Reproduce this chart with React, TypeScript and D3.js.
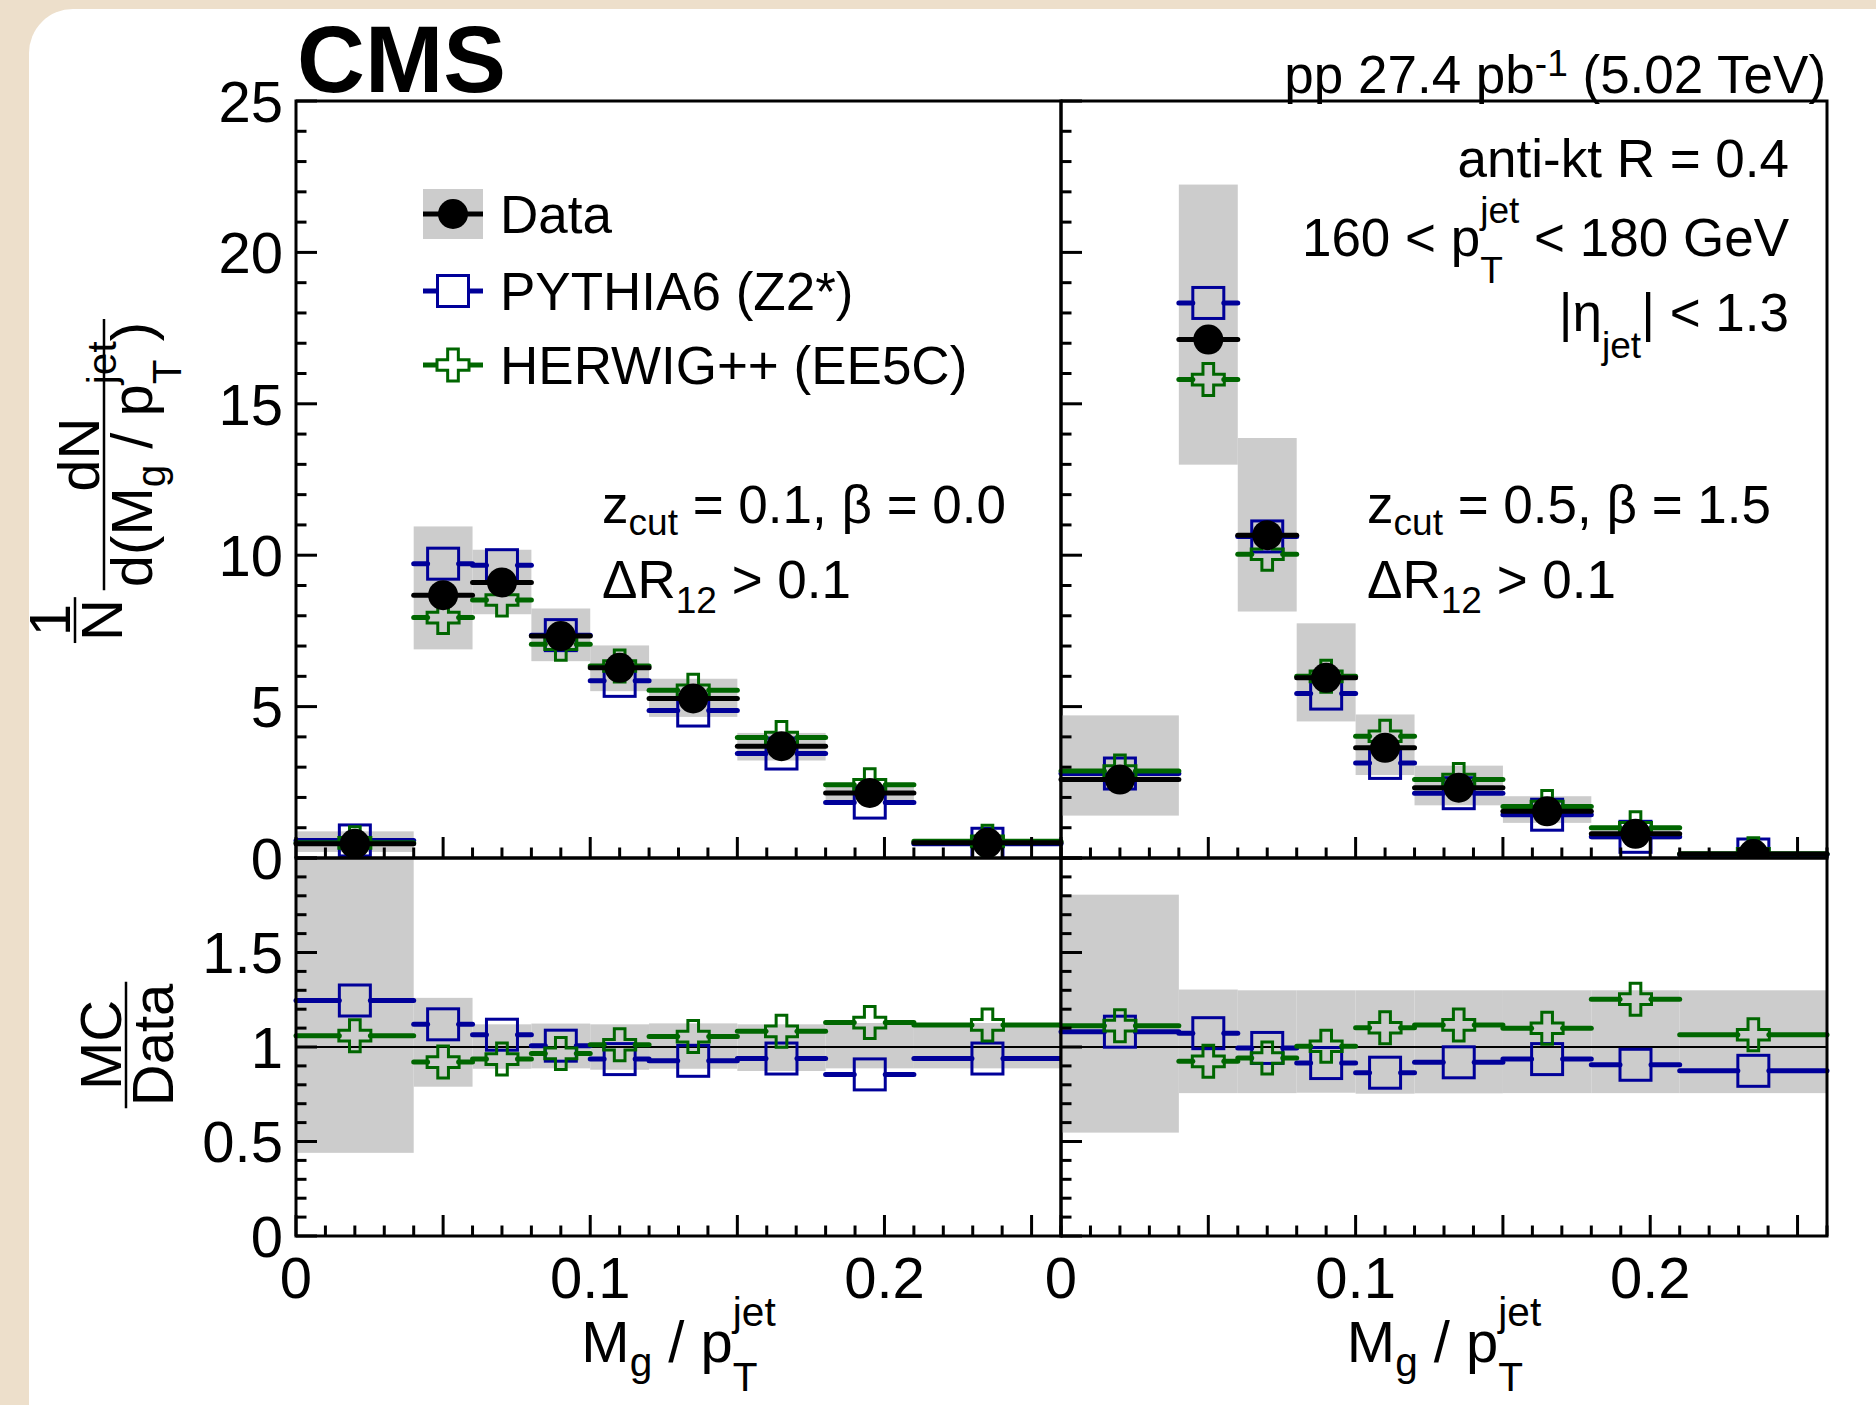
import React from 'react';
import * as d3 from 'd3';

// ---------------- DATA ----------------
const binEdges = [0, 0.04, 0.06, 0.08, 0.1, 0.12, 0.15, 0.18, 0.21, 0.26];

// Left panel: z_cut = 0.1, beta = 0.0
const leftData = [0.47, 8.68, 9.1, 7.33, 6.28, 5.27, 3.69, 2.15, 0.5];
const leftPythia = [0.58, 9.72, 9.67, 7.36, 5.85, 4.87, 3.45, 1.83, 0.47];
const leftHerwig = [0.5, 7.94, 8.52, 7.06, 6.34, 5.54, 3.98, 2.42, 0.55];
const leftBandLo = [0.2, 6.89, 8.05, 6.5, 5.51, 4.66, 3.22, 1.91, 0.44];
const leftBandHi = [0.88, 10.95, 10.18, 8.24, 7.02, 5.92, 4.13, 2.42, 0.56];
const leftRatioPythia = [1.246, 1.12, 1.065, 1.007, 0.936, 0.927, 0.939, 0.855, 0.939];
const leftRatioHerwig = [1.06, 0.92, 0.936, 0.966, 1.012, 1.055, 1.083, 1.129, 1.117];
const leftRatioBandLo = [0.44, 0.79, 0.885, 0.887, 0.88, 0.885, 0.873, 0.887, 0.887];
const leftRatioBandHi = [2.1, 1.26, 1.12, 1.124, 1.12, 1.125, 1.12, 1.127, 1.127];

// Right panel: z_cut = 0.5, beta = 1.5
const rightData = [2.59, 17.12, 10.66, 5.95, 3.64, 2.32, 1.54, 0.8, 0.13];
const rightPythia = [2.79, 18.33, 10.62, 5.43, 3.14, 2.14, 1.43, 0.7, 0.115];
const rightHerwig = [2.87, 15.8, 10.03, 6.0, 4.02, 2.59, 1.7, 1.0, 0.14];
const rightBandLo = [1.4, 12.99, 8.14, 4.51, 2.74, 1.74, 1.16, 0.6, 0.1];
const rightBandHi = [4.71, 22.24, 13.87, 7.75, 4.74, 3.05, 2.04, 1.04, 0.17];
const rightRatioPythia = [1.081, 1.073, 0.995, 0.915, 0.864, 0.919, 0.936, 0.906, 0.874];
const rightRatioHerwig = [1.113, 0.924, 0.942, 1.004, 1.102, 1.117, 1.099, 1.253, 1.065];
const rightRatioBandLo = [0.547, 0.756, 0.756, 0.758, 0.753, 0.755, 0.756, 0.756, 0.756];
const rightRatioBandHi = [1.806, 1.304, 1.3, 1.3, 1.3, 1.3, 1.3, 1.3, 1.3];

const xTickLabels = [0, 0.1, 0.2];
const yTopTickLabels = [0, 5, 10, 15, 20, 25];
const yRatioTickLabels = [0, 0.5, 1, 1.5];
const legendLabels = ['Data', 'PYTHIA6 (Z2*)', 'HERWIG++ (EE5C)'];

// ---------------- STYLE / LAYOUT ----------------
const W = 1876;
const H = 1405;
const FONT = '"Liberation Sans", Arial, Helvetica, sans-serif';
const FS = 53; // general text
const FT = 58; // tick labels / axis titles
const BLUE = '#000099';
const GREEN = '#006600';
const GRAY = '#cccccc';

const TOP_Y0 = 101;
const SPLIT_Y = 858;
const BOT_Y = 1236;
const PANEL_X = [296, 1061, 1827];

const yTop = d3.scaleLinear().domain([0, 25]).range([SPLIT_Y, TOP_Y0]);
const yRatio = d3.scaleLinear().domain([0, 2]).range([BOT_Y, SPLIT_Y]);

// ---------------- TEXT HELPERS ----------------
let _ctx: CanvasRenderingContext2D | null = null;
function measure(t: string, size: number, weight: string = 'normal'): number {
  if (!_ctx && typeof document !== 'undefined') {
    _ctx = document.createElement('canvas').getContext('2d');
  }
  if (!_ctx) return t.length * size * 0.55;
  _ctx.font = `${weight} ${size}px "Liberation Sans", Arial, sans-serif`;
  return _ctx.measureText(t).width;
}

type Piece = { t: string; s?: number; dy?: number; stack?: boolean };

function layoutRich(pieces: Piece[], size: number, weight = 'normal') {
  let x = 0;
  let prevStart = 0;
  let prevW = 0;
  const items: { t: string; x: number; dy: number; fs: number }[] = [];
  for (const p of pieces) {
    const fs = size * (p.s ?? 1);
    const w = measure(p.t, fs, weight);
    let start: number;
    if (p.stack) {
      start = prevStart;
      x = Math.max(prevStart + prevW, start + w);
    } else {
      start = x;
      x = start + w;
    }
    items.push({ t: p.t, x: start, dy: (p.dy ?? 0) * size, fs });
    prevStart = start;
    prevW = w;
  }
  return { items, width: x };
}

function RichText(props: {
  x: number;
  y: number;
  pieces: Piece[];
  size: number;
  anchor?: 'start' | 'middle' | 'end';
  weight?: string;
}) {
  const { x, y, pieces, size, anchor = 'start', weight = 'normal' } = props;
  const lay = layoutRich(pieces, size, weight);
  const off = anchor === 'end' ? -lay.width : anchor === 'middle' ? -lay.width / 2 : 0;
  return (
    <g>
      {lay.items.map((it, i) => (
        <text
          key={i}
          x={x + off + it.x}
          y={y + it.dy}
          fontSize={it.fs}
          fontFamily={FONT}
          fontWeight={weight}
          fill="#000"
          style={{ whiteSpace: 'pre' }}
        >
          {it.t}
        </text>
      ))}
    </g>
  );
}

const pTjet = (s = 0.7): Piece[] => [
  { t: 'p' },
  { t: 'jet', s, dy: -0.62 },
  { t: 'T', s, dy: 0.5, stack: true },
];

const xTitlePieces: Piece[] = [
  { t: 'M' },
  { t: 'g', s: 0.7, dy: 0.24 },
  { t: ' / ' },
  ...pTjet(),
];
const yDenPieces: Piece[] = [
  { t: 'd(M' },
  { t: 'g', s: 0.7, dy: 0.24 },
  { t: ' / ' },
  ...pTjet(),
  { t: ')' },
];

// ---------------- MARKERS ----------------
const MS = 15.5; // marker half-size

function crossPath(h: number) {
  const a = h / 3;
  return `M${-a},${-h}L${a},${-h}L${a},${-a}L${h},${-a}L${h},${a}L${a},${a}L${a},${h}L${-a},${h}L${-a},${a}L${-h},${a}L${-h},${-a}L${-a},${-a}Z`;
}

function Marker({ kind, x, y }: { kind: string; x: number; y: number }) {
  if (kind === 'data') return <circle cx={x} cy={y} r={15} fill="#000" />;
  if (kind === 'pythia')
    return (
      <rect x={x - MS} y={y - MS} width={2 * MS} height={2 * MS} fill="none" stroke={BLUE} strokeWidth={3} />
    );
  return (
    <path d={crossPath(16)} transform={`translate(${x},${y})`} fill="none" stroke={GREEN} strokeWidth={3} />
  );
}

function Series(props: {
  values: number[];
  kind: string;
  x: d3.ScaleLinear<number, number>;
  y: d3.ScaleLinear<number, number>;
}) {
  const { values, kind, x, y } = props;
  const color = kind === 'data' ? '#000' : kind === 'pythia' ? BLUE : GREEN;
  return (
    <g>
      {values.map((v, i) => {
        const lo = x(binEdges[i]);
        const hi = x(binEdges[i + 1]);
        const cx = x((binEdges[i] + binEdges[i + 1]) / 2);
        const cy = y(v);
        const gapHalf = kind === 'data' ? 0 : MS;
        return (
          <g key={i}>
            {kind === 'data' ? (
              <line x1={lo} x2={hi} y1={cy} y2={cy} stroke={color} strokeWidth={5} strokeLinecap="round" />
            ) : (
              <>
                <line x1={lo} x2={cx - gapHalf} y1={cy} y2={cy} stroke={color} strokeWidth={5} strokeLinecap="round" />
                <line x1={cx + gapHalf} x2={hi} y1={cy} y2={cy} stroke={color} strokeWidth={5} strokeLinecap="round" />
              </>
            )}
            <Marker kind={kind} x={cx} y={cy} />
          </g>
        );
      })}
    </g>
  );
}

function Bands(props: {
  lo: number[];
  hi: number[];
  x: d3.ScaleLinear<number, number>;
  y: d3.ScaleLinear<number, number>;
}) {
  const { lo, hi, x, y } = props;
  return (
    <g>
      {lo.map((l, i) => (
        <rect
          key={i}
          x={x(binEdges[i])}
          width={x(binEdges[i + 1]) - x(binEdges[i])}
          y={y(hi[i])}
          height={y(l) - y(hi[i])}
          fill={GRAY}
        />
      ))}
    </g>
  );
}

// ---------------- PANEL ----------------
type PanelDef = {
  idx: number;
  data: number[];
  pythia: number[];
  herwig: number[];
  bandLo: number[];
  bandHi: number[];
  rPythia: number[];
  rHerwig: number[];
  rBandLo: number[];
  rBandHi: number[];
};

function Panel({ p }: { p: PanelDef }) {
  const x0 = PANEL_X[p.idx];
  const x1 = PANEL_X[p.idx + 1];
  const x = d3.scaleLinear().domain([0, 0.26]).range([x0, x1]);
  const xt = d3.range(0, 27).map((k) => k / 100);
  const ytTop = d3.range(0, 26);
  const ytRatio = d3.range(0, 21).map((k) => k / 10);
  const clipTop = `clipTop${p.idx}`;
  const clipRat = `clipRat${p.idx}`;
  const LT = 21;
  const ST = 10.5;
  return (
    <g>
      <defs>
        <clipPath id={clipTop}>
          <rect x={x0 - 6} y={TOP_Y0} width={x1 - x0 + 12} height={SPLIT_Y - TOP_Y0} />
        </clipPath>
        <clipPath id={clipRat}>
          <rect x={x0 - 6} y={SPLIT_Y} width={x1 - x0 + 12} height={BOT_Y - SPLIT_Y} />
        </clipPath>
      </defs>

      {/* top pad */}
      <g clipPath={`url(#${clipTop})`}>
        <Bands lo={p.bandLo} hi={p.bandHi} x={x} y={yTop} />
        <Series values={p.pythia} kind="pythia" x={x} y={yTop} />
        <Series values={p.herwig} kind="herwig" x={x} y={yTop} />
        <Series values={p.data} kind="data" x={x} y={yTop} />
      </g>

      {/* ratio pad */}
      <g clipPath={`url(#${clipRat})`}>
        <Bands lo={p.rBandLo} hi={p.rBandHi} x={x} y={yRatio} />
        <line x1={x0} x2={x1} y1={yRatio(1)} y2={yRatio(1)} stroke="#000" strokeWidth={2} />
        <Series values={p.rPythia} kind="pythia" x={x} y={yRatio} />
        <Series values={p.rHerwig} kind="herwig" x={x} y={yRatio} />
      </g>

      {/* frames */}
      <rect x={x0} y={TOP_Y0} width={x1 - x0} height={SPLIT_Y - TOP_Y0} fill="none" stroke="#000" strokeWidth={3} />
      <rect x={x0} y={SPLIT_Y} width={x1 - x0} height={BOT_Y - SPLIT_Y} fill="none" stroke="#000" strokeWidth={3} />

      {/* x ticks (top pad bottom and ratio bottom) */}
      {xt.map((v, i) => {
        const len = i % 5 === 0 ? LT : ST;
        const px = x(v);
        return (
          <g key={`xt${i}`}>
            <line x1={px} x2={px} y1={SPLIT_Y} y2={SPLIT_Y - len} stroke="#000" strokeWidth={3} />
            <line x1={px} x2={px} y1={BOT_Y} y2={BOT_Y - len} stroke="#000" strokeWidth={3} />
          </g>
        );
      })}

      {/* y ticks */}
      {ytTop.map((v) => {
        const len = v % 5 === 0 ? LT : ST;
        return <line key={`yt${v}`} x1={x0} x2={x0 + len} y1={yTop(v)} y2={yTop(v)} stroke="#000" strokeWidth={3} />;
      })}
      {ytRatio.map((v, i) => {
        const len = i % 5 === 0 ? LT : ST;
        return (
          <line key={`yr${i}`} x1={x0} x2={x0 + len} y1={yRatio(v)} y2={yRatio(v)} stroke="#000" strokeWidth={3} />
        );
      })}

      {/* x tick labels */}
      {xTickLabels.map((v) => (
        <text key={`xl${v}`} x={x(v)} y={1298} fontSize={FT} fontFamily={FONT} textAnchor="middle">
          {String(v)}
        </text>
      ))}

      {/* x title */}
      <RichText x={(x0 + x1) / 2} y={1362} pieces={xTitlePieces} size={FT} anchor="middle" />
    </g>
  );
}

function YTitleTop() {
  const S = FT;
  const cx = 104;
  const cy = 481;
  const w1 = measure('1', S);
  const wN = measure('N', S);
  const f1w = Math.max(w1, wN) + 4;
  const lNum = layoutRich([{ t: 'dN' }], S);
  const lDen = layoutRich(yDenPieces, S);
  const f2w = Math.max(lNum.width, lDen.width) + 6;
  const gap = 0.12 * S;
  const total = f1w + gap + f2w;
  const u0 = -total / 2;
  const bar1 = -29;
  const bar2 = 0;
  const cap = 0.716 * S;
  const u2 = u0 + f1w + gap;
  return (
    <g transform={`translate(${cx},${cy}) rotate(-90)`}>
      <text x={u0 + f1w / 2} y={bar1 - 5} fontSize={S} fontFamily={FONT} textAnchor="middle">1</text>
      <line x1={u0} x2={u0 + f1w} y1={bar1} y2={bar1} stroke="#000" strokeWidth={2.5} />
      <text x={u0 + f1w / 2} y={bar1 + 5 + cap} fontSize={S} fontFamily={FONT} textAnchor="middle">N</text>
      <RichText x={u2 + f2w / 2} y={bar2 - 5} pieces={[{ t: 'dN' }]} size={S} anchor="middle" />
      <line x1={u2} x2={u2 + f2w} y1={bar2} y2={bar2} stroke="#000" strokeWidth={2.5} />
      <RichText x={u2 + f2w / 2} y={bar2 + 6 + cap} pieces={yDenPieces} size={S} anchor="middle" />
    </g>
  );
}

function YTitleRatio() {
  const S = FT;
  const cx = 126;
  const cy = 1045;
  const w = Math.max(measure('MC', S), measure('Data', S)) + 4;
  const cap = 0.716 * S;
  return (
    <g transform={`translate(${cx},${cy}) rotate(-90)`}>
      <text x={0} y={-5} fontSize={S} fontFamily={FONT} textAnchor="middle">MC</text>
      <line x1={-w / 2} x2={w / 2} y1={0} y2={0} stroke="#000" strokeWidth={2.5} />
      <text x={0} y={5 + cap} fontSize={S} fontFamily={FONT} textAnchor="middle">Data</text>
    </g>
  );
}

function Legend() {
  const lx0 = 423;
  const lx1 = 483;
  const mx = (lx0 + lx1) / 2;
  const rows = [214, 291, 365];
  const kinds = ['data', 'pythia', 'herwig'];
  const colors = ['#000', BLUE, GREEN];
  return (
    <g>
      <rect x={lx0} y={189} width={lx1 - lx0} height={50} fill={GRAY} />
      {rows.map((ry, i) => (
        <g key={i}>
          {i === 0 ? (
            <line x1={lx0} x2={lx1} y1={ry} y2={ry} stroke={colors[i]} strokeWidth={5} />
          ) : (
            <>
              <line x1={lx0} x2={mx - MS} y1={ry} y2={ry} stroke={colors[i]} strokeWidth={5} />
              <line x1={mx + MS} x2={lx1} y1={ry} y2={ry} stroke={colors[i]} strokeWidth={5} />
            </>
          )}
          <Marker kind={kinds[i]} x={mx} y={ry} />
          <text x={500} y={ry + 0.36 * FS} fontSize={FS} fontFamily={FONT}>
            {legendLabels[i]}
          </text>
        </g>
      ))}
    </g>
  );
}

export default function App() {
  const panels: PanelDef[] = [
    {
      idx: 0,
      data: leftData,
      pythia: leftPythia,
      herwig: leftHerwig,
      bandLo: leftBandLo,
      bandHi: leftBandHi,
      rPythia: leftRatioPythia,
      rHerwig: leftRatioHerwig,
      rBandLo: leftRatioBandLo,
      rBandHi: leftRatioBandHi,
    },
    {
      idx: 1,
      data: rightData,
      pythia: rightPythia,
      herwig: rightHerwig,
      bandLo: rightBandLo,
      bandHi: rightBandHi,
      rPythia: rightRatioPythia,
      rHerwig: rightRatioHerwig,
      rBandLo: rightRatioBandLo,
      rBandHi: rightRatioBandHi,
    },
  ];

  return (
    <svg
      width={W}
      height={H}
      viewBox={`0 0 ${W} ${H}`}
      style={{ position: 'absolute', left: 0, top: 0, display: 'block' }}
    >
      <rect x={0} y={0} width={W} height={H} fill="#eddfcb" />
      <rect x={29} y={9} width={W + 100} height={H + 100} rx={44} ry={44} fill="#ffffff" />

      {panels.map((p) => (
        <Panel key={p.idx} p={p} />
      ))}

      {/* y tick labels */}
      {yTopTickLabels.map((v) => (
        <text key={`ytl${v}`} x={283} y={yTop(v) + 0.358 * FT} fontSize={FT} fontFamily={FONT} textAnchor="end">
          {String(v)}
        </text>
      ))}
      {yRatioTickLabels.map((v) => (
        <text key={`yrl${v}`} x={283} y={yRatio(v) + 0.358 * FT} fontSize={FT} fontFamily={FONT} textAnchor="end">
          {String(v)}
        </text>
      ))}

      <YTitleTop />
      <YTitleRatio />

      {/* CMS label & lumi */}
      <text x={297} y={92} fontSize={94} fontWeight="bold" fontFamily={FONT}>
        CMS
      </text>
      <RichText
        x={1827}
        y={93}
        size={FS}
        anchor="end"
        pieces={[{ t: 'pp 27.4 pb' }, { t: '-1', s: 0.7, dy: -0.32 }, { t: ' (5.02 TeV)' }]}
      />

      <Legend />

      {/* left panel texts */}
      <RichText x={602} y={523} size={FS} pieces={[{ t: 'z' }, { t: 'cut', s: 0.7, dy: 0.22 }, { t: ' = 0.1, β = 0.0' }]} />
      <RichText x={602} y={598} size={FS} pieces={[{ t: 'ΔR' }, { t: '12', s: 0.7, dy: 0.28 }, { t: ' > 0.1' }]} />

      {/* right panel texts */}
      <RichText x={1789} y={177} size={FS} anchor="end" pieces={[{ t: 'anti-kt R = 0.4' }]} />
      <RichText
        x={1789}
        y={256}
        size={FS}
        anchor="end"
        pieces={[{ t: '160 < ' }, ...pTjet(), { t: ' < 180 GeV' }]}
      />
      <RichText
        x={1789}
        y={331}
        size={FS}
        anchor="end"
        pieces={[{ t: '|η' }, { t: 'jet', s: 0.7, dy: 0.5 }, { t: '| < 1.3' }]}
      />
      <RichText x={1367} y={523} size={FS} pieces={[{ t: 'z' }, { t: 'cut', s: 0.7, dy: 0.22 }, { t: ' = 0.5, β = 1.5' }]} />
      <RichText x={1367} y={598} size={FS} pieces={[{ t: 'ΔR' }, { t: '12', s: 0.7, dy: 0.28 }, { t: ' > 0.1' }]} />
    </svg>
  );
}
